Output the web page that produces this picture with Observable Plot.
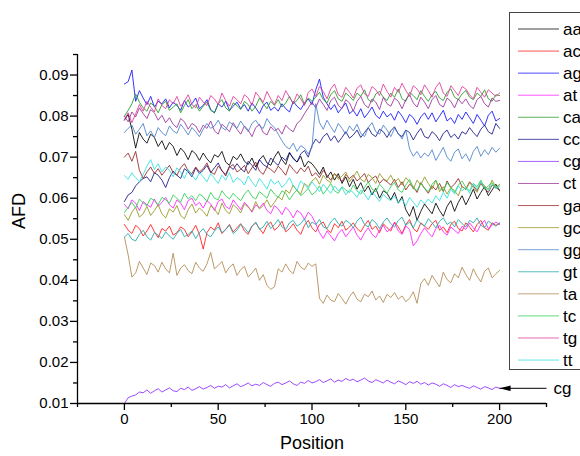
<!DOCTYPE html>
<html><head><meta charset="utf-8">
<script src="https://cdn.jsdelivr.net/npm/d3@7"></script>
<script src="https://cdn.jsdelivr.net/npm/@observablehq/plot@0.6"></script>
<style>
html,body{margin:0;padding:0;background:#fff;overflow:hidden;}
#wrap{position:relative;width:580px;height:456px;font-family:"Liberation Sans",Arial,sans-serif;}
#legend{position:absolute;left:509px;top:12px;}
</style></head>
<body><div id="wrap"></div>
<script>
// Position grid (every 2nd position, 0..200)
const positions = d3.range(0, 201, 2);
// Series values in units of 1e-4 AFD
const aa=[790,804,768,722,760,744,734,756,748,726,740, 718,736,726,704,722,712,694,716,708,692, 710,696,686,706,700,714,688,680,702,694, 708,690,682,698,676,694,704,686,680,700, 714,694,682,710,698,688,702,676,690,684, 672,658,676,650,664,644,660,636,652,628, 646,622,638,616,630,608,624,600,618,612, 596,614,588,604,572,556,580,546,568,586, 574,562,588,570,556,580,594,568,590,606, 584,602,622,598,614,628,606,620,634,618];
const ac=[536,522,514,534,526,508,520,536,518,504,526, 520,532,510,516,530,524,506,518,534,512, 476,516,530,522,540,514,524,536,518,528, 538,520,512,532,540,526,514,534,542,522, 530,544,518,526,538,522,512,534,546,528, 518,536,542,524,516,538,528,544,522,530, 540,526,518,534,546,524,532,516,538,528, 520,542,530,514,536,548,526,518,540,532, 524,538,546,522,530,516,536,544,526,520, 540,530,518,536,546,528,522,540,534,538];
const ag=[878,884,912,836,862,844,828,848,822,836,830, 842,820,834,826,814,838,822,830,844,818, 826,840,816,808,830,822,836,814,824,834, 818,828,812,832,820,806,826,834,814,822, 812,830,818,810,836,824,816,832,842,828, 864,890,846,830,816,828,808,820,832,806, 814,800,818,796,808,822,802,794,812,798, 806,790,812,800,784,804,796,780,798,808, 792,808,786,800,814,788,796,782,804,792, 810,796,782,804,790,776,802,812,788,794];
const at=[585,574,596,588,570,592,584,578,598,580,590, 602,584,576,596,588,572,594,600,582,590, 576,594,586,570,592,598,580,574,596,584, 572,590,580,566,584,576,588,570,562,582, 574,560,578,568,552,570,564,548,566,556, 538,516,502,520,508,496,514,524,506,518, 530,510,498,516,528,512,504,522,534,518, 526,540,520,512,532,524,484,496,514,528, 516,506,526,534,518,510,530,522,514,532, 524,540,528,518,536,546,526,534,542,536];
const ca=[800,814,830,854,834,820,812,832,824,808,828, 836,814,822,830,808,826,840,818,828,812, 824,834,814,808,830,840,820,812,832,826, 816,836,828,812,824,844,830,818,836,826, 840,822,832,848,830,838,852,828,844,836, 846,858,840,832,852,862,842,836,856,848, 838,856,848,864,840,834,854,860,846,838, 856,846,866,842,836,858,850,840,862,848, 836,852,860,844,838,858,866,846,840,854, 862,846,840,856,848,864,842,836,852,850];
const cc=[592,608,614,630,640,648,652,640,662,656,644, 626,650,666,656,648,672,664,652,674,660, 668,680,662,674,686,666,658,678,670,684, 672,664,690,680,668,694,682,676,698,688, 680,700,692,712,696,688,708,716,700,728, 744,734,750,758,740,752,736,748,762,746, 754,766,748,760,772,756,750,768,762,748, 764,774,756,750,766,760,742,758,770,750, 746,762,754,740,758,766,748,756,744,762, 756,772,760,750,768,778,762,756,782,770];
const cg=[100,114,118,121,128,126,133,125,131,136,128, 133,138,131,129,137,134,140,132,136,141, 135,139,144,137,142,140,146,138,143,148, 141,145,150,143,147,144,151,146,142,149, 152,146,150,155,148,144,152,149,156,150, 153,158,151,155,160,152,157,154,161,156, 159,153,157,162,155,151,158,154,150,157, 152,148,155,151,146,153,149,154,147,151, 145,150,147,142,148,144,139,146,141,144, 140,137,143,139,135,141,138,134,140,137];
const ct=[800,786,810,798,820,806,794,816,808,790,802, 784,796,780,772,794,786,768,782,776,760, 778,770,788,764,756,780,772,762,784,768, 756,776,766,750,772,780,760,754,774,764, 770,756,778,768,762,782,790,806,820,834, 820,842,828,814,838,846,826,818,840,832, 812,836,848,828,820,842,834,816,846,830, 824,844,836,818,840,852,832,822,846,834, 818,840,850,828,822,844,836,820,842,830, 842,826,818,840,848,830,822,844,836,838];
const ga=[700,710,690,714,668,648,664,676,660,672,656, 668,680,662,656,674,684,666,660,676,664, 672,686,664,658,678,668,654,676,682,664, 670,680,660,674,688,666,658,676,670,662, 678,668,656,682,670,660,674,664,678,654, 662,650,668,656,644,660,652,640,658,648, 656,642,650,660,638,648,654,636,646,640, 632,646,626,640,620,634,628,614,638,624, 612,630,620,636,616,642,626,634,648,628, 622,640,630,618,636,624,614,632,626,620];
const gc=[560,546,566,578,554,562,580,558,570,584,562, 552,574,566,582,558,550,572,586,564,576, 568,556,582,574,560,588,570,562,584,576, 564,586,578,568,592,574,582,596,578,590, 604,596,620,612,632,618,610,636,628,642, 650,634,656,644,638,660,646,654,664,640, 652,666,646,640,658,650,636,660,648,642, 656,638,648,632,650,640,622,644,632,652, 636,622,644,616,628,610,626,618,606,630, 620,638,626,614,640,630,622,644,626,634];
const gg=[760,770,778,756,768,782,752,764,748,772,760, 752,776,764,758,780,768,754,772,762,750, 768,782,770,776,790,772,766,786,778,770, 788,774,762,782,790,776,770,794,780,772, 756,740,726,720,734,714,728,722,708,724, 830,784,768,790,774,760,782,770,756,776, 764,780,758,750,772,784,762,756,778,766, 750,770,758,744,766,720,702,714,698,710, 702,718,692,708,724,700,690,712,720,696, 708,690,714,726,702,718,706,724,712,722];
const gt=[505,514,500,496,512,522,506,498,516,510,502, 518,508,500,514,524,506,512,520,502,516, 526,512,506,520,530,516,524,534,514,522, 536,528,516,532,542,524,530,544,526,536, 548,530,524,540,546,532,538,550,528,542, 536,548,530,526,542,552,538,532,546,540, 528,544,554,536,530,548,540,526,542,552, 538,530,546,554,534,542,528,548,538,532, 550,540,528,544,552,536,542,530,548,538, 530,546,540,552,534,528,544,538,532,540];
const ta=[505,462,408,418,446,430,414,442,436,420,444, 428,418,466,412,430,438,424,416,444,430, 422,440,468,428,436,446,418,432,440,412, 426,434,408,418,430,400,414,388,378,384, 428,420,440,424,416,446,432,426,442,434, 440,356,344,364,352,348,368,356,342,360, 372,354,348,366,360,374,352,362,346,366, 358,370,354,362,348,356,372,344,392,404, 388,412,398,384,420,402,394,416,406,432, 414,400,428,410,396,422,430,406,416,424];
const tc=[565,578,590,576,598,588,582,600,594,584,602, 596,588,608,600,590,612,598,606,594,610, 604,592,614,600,596,618,606,598,612,602, 594,610,620,604,598,616,608,600,622,610, 602,618,612,596,610,620,606,614,624,608, 616,630,610,622,636,618,612,628,620,614, 632,618,610,626,640,622,616,634,624,612, 628,638,620,614,632,646,626,618,636,624, 616,634,644,624,618,638,626,614,632,642, 626,618,636,628,644,622,630,638,624,632];
const tg=[792,808,784,806,828,812,836,822,810,842,826, 818,840,830,848,824,836,852,828,820,846, 834,826,850,842,828,856,838,824,848,840, 830,852,844,826,858,846,834,860,842,828, 850,838,862,846,830,854,842,826,858,866, 848,872,860,842,866,878,852,846,870,858, 844,868,876,854,848,872,864,850,878,860, 846,870,858,880,862,848,874,866,852,876, 862,846,870,882,856,848,874,862,850,872, 866,852,842,870,858,846,864,856,848,856];
const tt=[655,646,662,650,640,658,678,694,670,684,664, 676,668,652,674,664,648,670,656,644,662, 652,640,660,648,636,656,644,662,638,650, 644,632,654,640,628,648,636,622,646,634, 642,626,636,650,630,620,642,632,624,640, 628,616,634,622,612,630,618,626,608,620, 614,602,620,610,596,616,604,592,610,600, 594,606,588,598,582,602,590,578,596,586, 598,588,606,594,614,600,622,610,630,618, 626,612,636,622,640,628,618,634,624,628];

const seriesNames=["aa","ac","ag","at","ca","cc","cg","ct","ga","gc","gg","gt","ta","tc","tg","tt"];
const seriesColors=["#000000","#ff1a1a","#1010ff","#ff20ff","#229922","#151585","#8a2cff","#9a2f9a","#952525","#959520","#4a80c8","#20a8a8","#b08850","#2ccf50","#e0389a","#30e0e0"];
const yTicks=[0.01,0.02,0.03,0.04,0.05,0.06,0.07,0.08,0.09];
const yMinor=[0.015,0.025,0.035,0.045,0.055,0.065,0.075,0.085,0.095];
const xTicks=[0,50,100,150,200];
const xMinor=[-25,25,75,125,175,225];
const xDomain=[-25,225];
const yDomain=[0.01,0.095];
const annoLabel=["cg"];

const values={aa,ac,ag,at,ca,cc,cg,ct,ga,gc,gg,gt,ta,tc,tg,tt};
const rows=seriesNames.flatMap(k=>values[k].map((v,i)=>({pos:positions[i],afd:v/1e4,key:k})));
const cgLast={pos:positions[positions.length-1],afd:cg[cg.length-1]/1e4};

const arrowHead={draw(ctx){ctx.moveTo(0,0);ctx.lineTo(11,-2.8);ctx.lineTo(11,2.8);ctx.closePath();}};

const chart=Plot.plot({
  width:580,height:456,
  marginLeft:77,marginRight:34,marginTop:54,marginBottom:53,
  style:{fontFamily:"'Liberation Sans',Arial,sans-serif",fontSize:"15px",color:"#000",background:"#fff"},
  x:{domain:xDomain,label:null},
  y:{domain:yDomain,label:null},
  color:{domain:seriesNames,range:seriesColors},
  marks:[
    Plot.line(rows,{x:"pos",y:"afd",z:"key",stroke:"key",strokeWidth:1,strokeOpacity:0.85}),
    Plot.ruleX([xDomain[0]],{stroke:"#000",strokeWidth:1.3}),
    Plot.ruleY([yDomain[0]],{stroke:"#000",strokeWidth:1.3}),
    Plot.axisY(yTicks,{tickSize:7,tickPadding:2,tickFormat:".2f",fontSize:15,label:null,strokeWidth:1.3}),
    Plot.axisY(yMinor,{tickSize:4,text:null,label:null,strokeWidth:1.3}),
    Plot.axisX(xTicks,{tickSize:7,tickPadding:3,fontSize:15,label:null,strokeWidth:1.3}),
    Plot.axisX(xMinor,{tickSize:4,text:null,label:null,strokeWidth:1.3}),
    Plot.text(["Position"],{frameAnchor:"bottom",dy:45,fontSize:18}),
    Plot.text(["AFD"],{frameAnchor:"left",rotate:-90,dx:-58,fontSize:18}),
    Plot.link([cgLast],{x1:xDomain[1],y1:"afd",x2:"pos",y2:"afd",stroke:"#000",strokeWidth:1}),
    Plot.dot([cgLast],{x:"pos",y:"afd",symbol:arrowHead,fill:"#000",stroke:null}),
    Plot.text(annoLabel,{x:xDomain[1],y:cgLast.afd,dx:7,textAnchor:"start",fontSize:17})
  ]
});
const wrap=document.getElementById("wrap");
wrap.appendChild(chart);

// Legend box (cut off by the right edge, as in the reference)
const rowH=22.07;
const leg=d3.create("svg").attr("id","legend").attr("width",80).attr("height",360)
  .style("font-family","'Liberation Sans',Arial,sans-serif");
leg.append("rect").attr("x",0.5).attr("y",0.5).attr("width",120).attr("height",357)
  .attr("fill","#fff").attr("stroke","#444").attr("stroke-width",1);
const g=leg.selectAll("g").data(seriesNames).join("g")
  .attr("transform",(d,i)=>`translate(0,${17+i*rowH})`);
g.append("line").attr("x1",9).attr("x2",50).attr("stroke",(d,i)=>seriesColors[i]).attr("stroke-width",1).attr("stroke-opacity",0.75);
g.append("text").attr("x",54).attr("dy","0.35em").attr("font-size",17).text(d=>d);
wrap.appendChild(leg.node());
</script></body></html>
